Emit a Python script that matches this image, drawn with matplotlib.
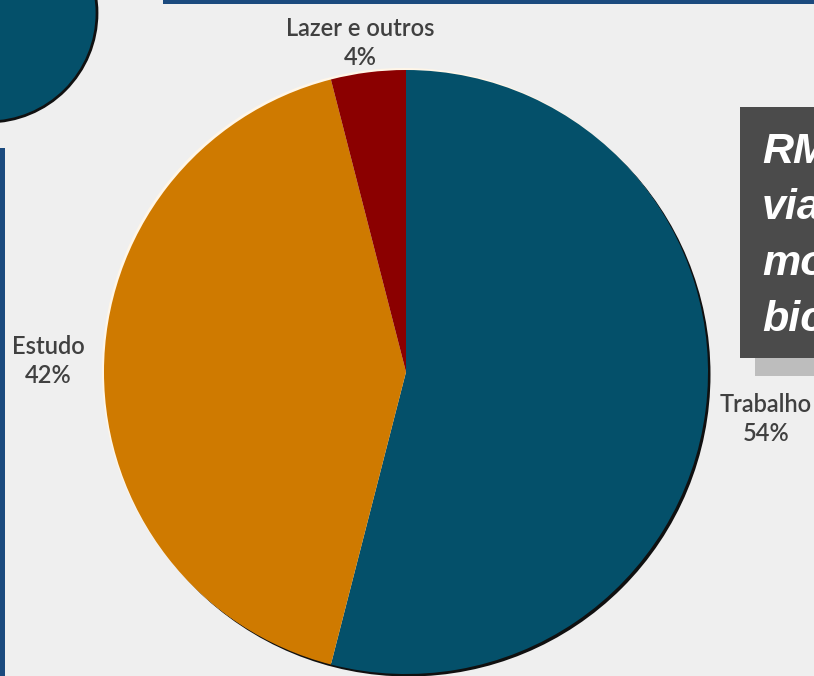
import matplotlib
matplotlib.use("Agg")
import matplotlib.pyplot as plt
from matplotlib.patches import Circle, Rectangle

# ---- data ----
categories = ["Trabalho", "Estudo", "Lazer e outros"]
values = [54, 42, 4]
colors = ["#04506a", "#cf7a00", "#8b0000"]
box_lines = ["RMBH:", "viagens", "motivo", "bicicleta"]

W, H = 814, 676
fig = plt.figure(figsize=(W / 100, H / 100), dpi=100)
fig.patch.set_facecolor("#efefef")
ax = fig.add_axes([0, 0, 1, 1])
ax.set_xlim(0, W)
ax.set_ylim(H, 0)
ax.set_aspect("equal")
ax.axis("off")

# decorative slide elements
ax.add_patch(Circle((-12, 13), 109, facecolor="#04506a", edgecolor="#111111", lw=2, zorder=1))
ax.add_patch(Rectangle((163, 0), W - 163, 3.5, facecolor="#1b4a7e", lw=0, zorder=1))
ax.add_patch(Rectangle((0, 148), 5, H - 148, facecolor="#1b4a7e", lw=0, zorder=1))

# pie shadow / highlight
cx, cy, r = 406, 372, 302
ax.add_patch(Circle((cx + 2.5, cy + 2.5), r, facecolor="#101010", lw=0, zorder=2))
ax.add_patch(Circle((cx - 2, cy - 2), r, facecolor="#fff6e8", lw=0, zorder=2))

# pie (y axis inverted -> counterclock=True draws clockwise on screen)
wedges, _ = ax.pie(values, colors=colors, startangle=-90, counterclock=True,
                   center=(cx, cy), radius=r, frame=True,
                   wedgeprops=dict(linewidth=0, zorder=3))
for w in wedges:
    w.set_zorder(3)
ax.set_xlim(0, W)
ax.set_ylim(H, 0)
ax.axis("off")

# labels
label_pos = {"Trabalho": (766, 419), "Estudo": (48, 361), "Lazer e outros": (360, 43)}
for cat, val in zip(categories, values):
    x, y = label_pos[cat]
    ax.text(x, y, f"{cat}\n{val}%", ha="center", va="center", fontsize=17,
            family="Lato", weight="semibold", color="#404040",
            linespacing=1.3, zorder=5)

# right text box
ax.add_patch(Rectangle((755, 358), 80, 18, facecolor="#bdbdbd", lw=0, zorder=4))
box = Rectangle((740, 107), 90, 251, facecolor="#4b4b4b", lw=0, zorder=5)
ax.add_patch(box)
for i, line in enumerate(box_lines):
    t = ax.text(762, 163 + 56 * i, line, ha="left", va="baseline", fontsize=31,
                family="Liberation Sans", weight="bold", style="italic",
                color="white", zorder=6)
    t.set_clip_path(box)

fig.savefig("out.png", dpi=100, facecolor=fig.get_facecolor())
